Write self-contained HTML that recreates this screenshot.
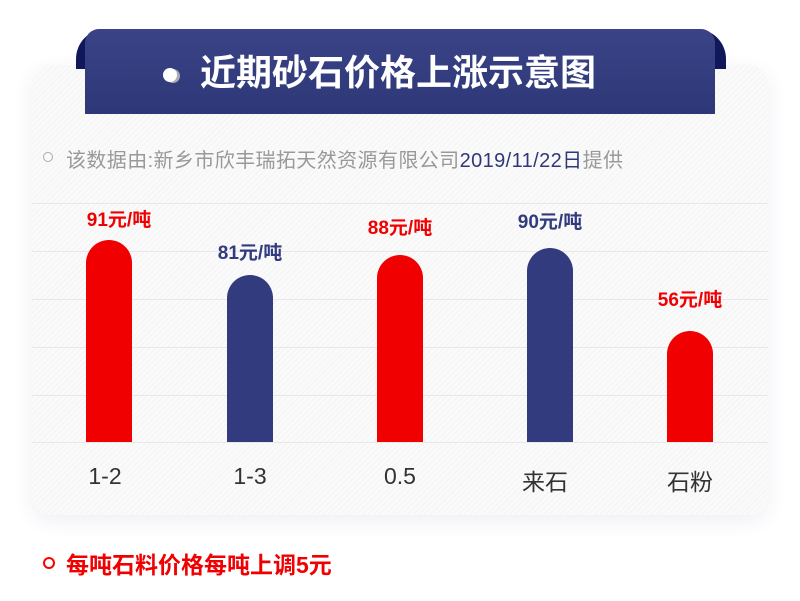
<!DOCTYPE html>
<html><head><meta charset="utf-8"><style>
body{margin:0;width:800px;height:601px;background:#fff;position:relative;overflow:hidden;font-family:"Liberation Sans","Noto Sans CJK SC",sans-serif}
.card{position:absolute;left:32px;top:65px;width:736px;height:450px;border-radius:20px;background:repeating-linear-gradient(135deg,#fafafa 0 3px,#f4f4f5 3px 4px);box-shadow:0 6px 20px rgba(40,50,100,0.08)}
.flap{position:absolute;left:76px;top:29px;width:650px;height:40px;background:#10185a;border-radius:30px 30px 0 0}
.banner{position:absolute;left:85px;top:29px;width:630px;height:85px;background:linear-gradient(#3a4386,#2e3878);border-radius:14px 14px 0 0}
.title{position:absolute;left:115px;top:0;height:85px;line-height:88px;color:#fff;font-weight:bold;font-size:36px;white-space:nowrap}
.dot{position:absolute;left:163px;top:68px;width:14px;height:14px;border-radius:50%;background:#fff;box-shadow:3px 1px 0 #aab}
.grid{position:absolute;left:32px;width:736px;height:1px;background:#e8e8ec}
.bar{position:absolute;width:46px;border-radius:23px 23px 0 0}
.r{background:#f00000}.b{background:#313b7e}
.lab{position:absolute;width:120px;text-align:center;font-weight:bold;font-size:19px}
.x{position:absolute;top:463px;width:100px;text-align:center;font-size:23px;color:#333}
</style></head><body>
<div class="card"></div>
<div class="flap"></div>
<div class="banner"><div class="title">近期砂石价格上涨示意图</div></div>
<div class="dot"></div>
<div style="position:absolute;left:43px;top:152px;width:8px;height:8px;border:1px solid #aaa;border-radius:50%"></div>
<div style="position:absolute;left:66px;top:144px;font-size:20px;letter-spacing:0.4px;color:#999;white-space:nowrap">该数据由:新乡市欣丰瑞拓天然资源有限公司<span style="color:#2e3878">2019/11/22日</span>提供</div>
<div class="grid" style="top:203px"></div><div class="grid" style="top:251px"></div><div class="grid" style="top:299px"></div><div class="grid" style="top:347px"></div><div class="grid" style="top:395px"></div><div class="grid" style="top:442px"></div>
<div class="bar r" style="left:86px;top:240px;height:202px"></div>
<div class="bar b" style="left:227px;top:275px;height:167px"></div>
<div class="bar r" style="left:377px;top:255px;height:187px"></div>
<div class="bar b" style="left:527px;top:248px;height:194px"></div>
<div class="bar r" style="left:667px;top:331px;height:111px"></div>
<div class="lab" style="left:59px;top:205px;color:#f00000">91元/吨</div>
<div class="lab" style="left:190px;top:238px;color:#313b7e">81元/吨</div>
<div class="lab" style="left:340px;top:213px;color:#f00000">88元/吨</div>
<div class="lab" style="left:490px;top:207px;color:#313b7e">90元/吨</div>
<div class="lab" style="left:630px;top:285px;color:#f00000">56元/吨</div>
<div class="x" style="left:55px">1-2</div>
<div class="x" style="left:200px">1-3</div>
<div class="x" style="left:350px">0.5</div>
<div class="x" style="left:495px">来石</div>
<div class="x" style="left:640px">石粉</div>
<div style="position:absolute;left:43px;top:557px;width:8px;height:8px;border:2px solid #f00;border-radius:50%"></div>
<div style="position:absolute;left:66px;top:546px;font-size:23px;font-weight:bold;color:#f00000;white-space:nowrap">每吨石料价格每吨上调5元</div>
</body></html>
